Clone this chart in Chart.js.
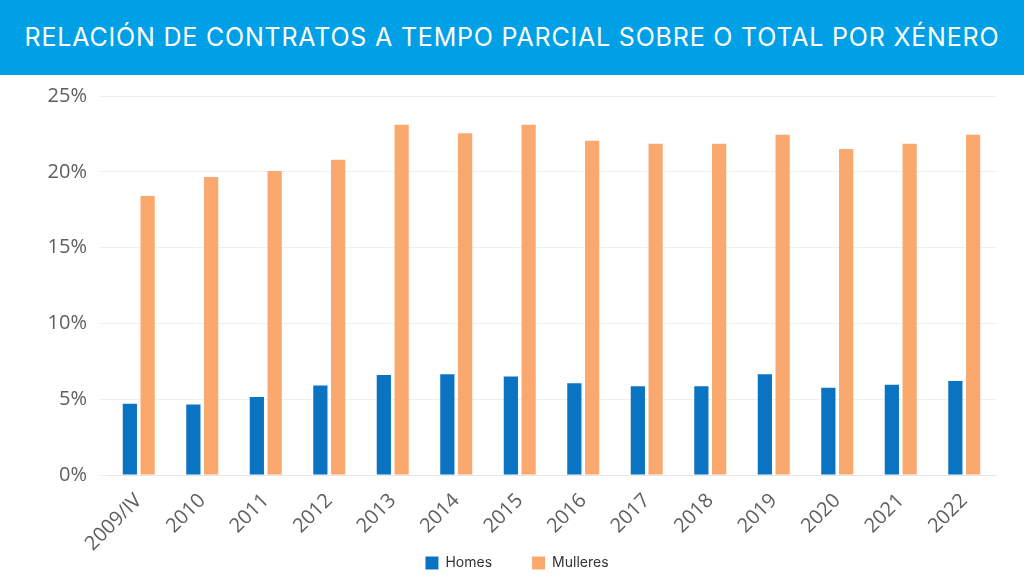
<!DOCTYPE html>
<html>
<head>
<meta charset="utf-8">
<script src="https://cdn.jsdelivr.net/npm/chart.js@4"></script>
<style>
  html, body { margin: 0; padding: 0; background: #fff; }
  #banner {
    width: 1024px; height: 75px; background: #00a0e6; color: #fff;
    font-family: Inter, "Noto Sans", sans-serif; font-size: 25px;
    line-height: 75px; text-align: center; letter-spacing: 0.8px;
  }
  #wrap { width: 1024px; height: 501px; position: relative; }
</style>
</head>
<body>
<div id="banner">RELACIÓN DE CONTRATOS A TEMPO PARCIAL SOBRE O TOTAL POR XÉNERO</div>
<div id="wrap"><canvas id="chBars"></canvas></div>
<script>
"use strict";

const years = ['2009/IV','2010','2011','2012','2013','2014','2015','2016','2017','2018','2019','2020','2021','2022'];
const homes = [4.7, 4.65, 5.15, 5.9, 6.6, 6.65, 6.5, 6.05, 5.85, 5.85, 6.65, 5.75, 5.95, 6.2];
const mulleres = [18.4, 19.65, 20.05, 20.8, 23.1, 22.55, 23.1, 22.05, 21.85, 21.85, 22.45, 21.5, 21.85, 22.45];
const yTicks = [0, 5, 10, 15, 20, 25];

// keep the wide gap between legend items but not the tall box it makes
const legendFit = {
  id: 'legendFit',
  beforeInit(chart) {
    const fit = chart.legend.fit;
    chart.legend.fit = function () {
      fit.bind(chart.legend)();
      this.height = 20;
    };
  },
  afterLayout(chart) {
    chart.legend.top -= 40;
    chart.legend.left += 38;
  }
};

function setChartBars(){
  var chData = {
    labels: years,
    datasets: [
      { label: 'Homes', data: homes, backgroundColor: '#0b74c2', barPercentage: 0.8, categoryPercentage: 0.56 },
      { label: 'Mulleres', data: mulleres, backgroundColor: '#f9a86e', barPercentage: 0.8, categoryPercentage: 0.56 }
    ]
  };

  var chOptions = {
    responsive: true,
    maintainAspectRatio: false,
    animation: false,
    layout: { padding: { left: 0, right: 28, top: 21, bottom: 0 } },
    plugins: {
      legend: {
        position: 'bottom',
        labels: { boxWidth: 13, boxHeight: 13, padding: 40, color: '#333', font: { family: 'Inter, sans-serif', size: 14 } }
      },
      tooltip: { enabled: false }
    },
    scales: {
      x: {
        grid: { display: false },
        border: { color: '#e6e6e6' },
        afterFit: axis => { axis.height = 81; },
        ticks: { maxRotation: 45, minRotation: 45, padding: 6, color: '#5e5e5e', font: { family: '"Open Sans", sans-serif', size: 20 } }
      },
      y: {
        min: 0, max: 25,
        afterBuildTicks: axis => { axis.ticks = yTicks.map(v => ({ value: v })); },
        afterFit: axis => { axis.width = 107; axis.paddingTop = 0; axis.paddingBottom = 0; },
        grid: { color: '#efefef' },
        border: { display: false },
        ticks: { padding: 12, color: '#5e5e5e', font: { family: '"Open Sans", sans-serif', size: 20 }, callback: v => v + '%' }
      }
    }
  };

  new Chart(document.getElementById('chBars'), { type: 'bar', data: chData, options: chOptions, plugins: [legendFit] });
}

Promise.all([
  document.fonts.load('20px "Open Sans"'),
  document.fonts.load('14px Inter')
]).then(setChartBars, setChartBars);
</script>
</body>
</html>
